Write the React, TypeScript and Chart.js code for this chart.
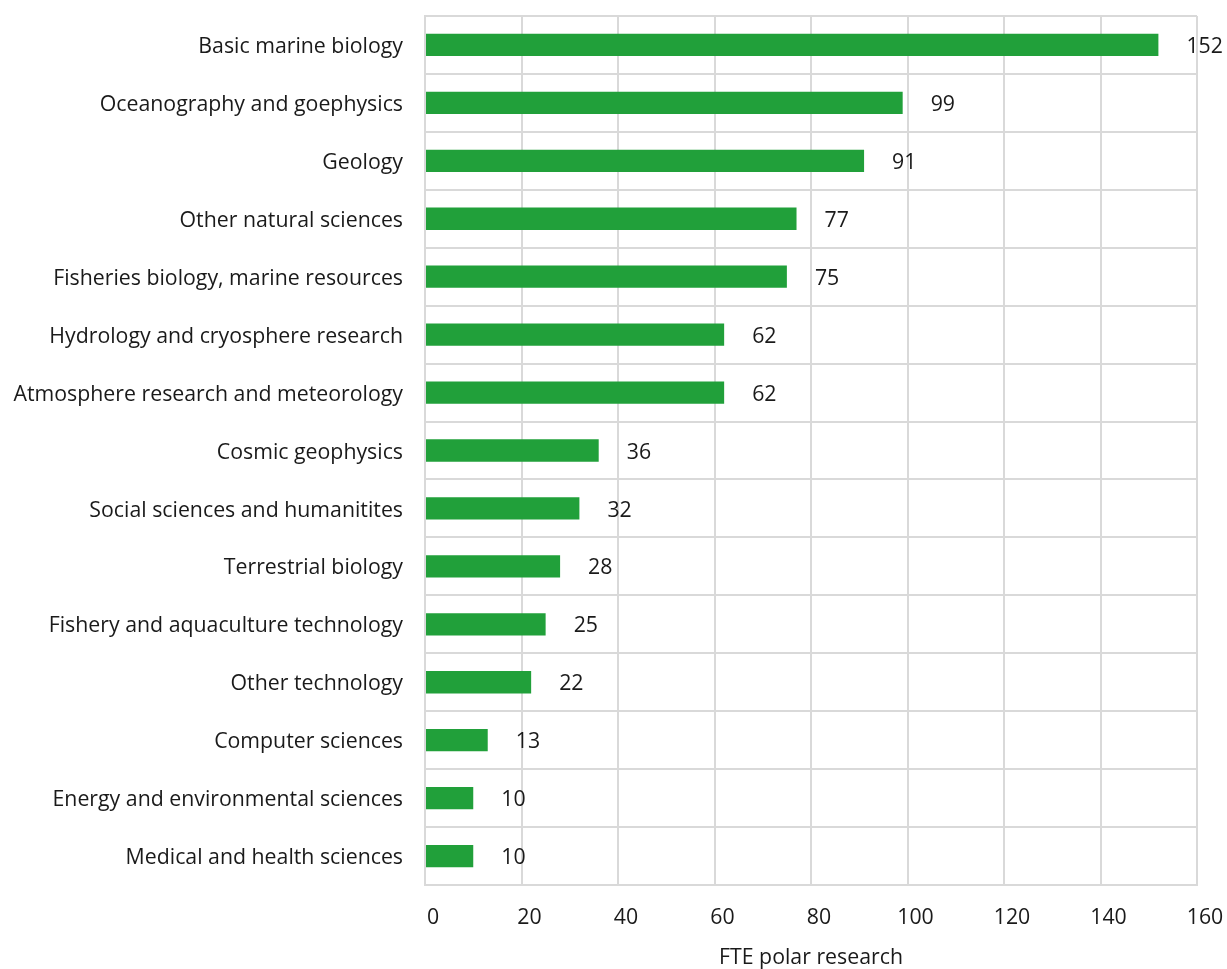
import React, { useEffect, useRef } from "react";
import { Chart, registerables } from "chart.js";

Chart.register(...registerables);

const categories = [
  "Basic marine biology",
  "Oceanography and goephysics",
  "Geology",
  "Other natural sciences",
  "Fisheries biology, marine resources",
  "Hydrology and cryosphere research",
  "Atmosphere research and meteorology",
  "Cosmic geophysics",
  "Social sciences and humanitites",
  "Terrestrial biology",
  "Fishery and aquaculture technology",
  "Other technology",
  "Computer sciences",
  "Energy and environmental sciences",
  "Medical and health sciences",
];

const fteValues = [152, 99, 91, 77, 75, 62, 62, 36, 32, 28, 25, 22, 13, 10, 10];
const valueLabels = ["152", "99", "91", "77", "75", "62", "62", "36", "32", "28", "25", "22", "13", "10", "10"];
const xTicks = [0, 20, 40, 60, 80, 100, 120, 140, 160];
const axisTitle = "FTE polar research";

const FONT = "'Open Sans', 'Noto Sans', sans-serif";
const FS = 21.3;
const TEXT = "#1a1a1a";
const GRID = "#d9d9d9";
const BAR = "#21a03a";

const valueLabelPlugin = {
  id: "valueLabels",
  afterDatasetsDraw(chart: any) {
    const ctx = chart.ctx;
    const meta = chart.getDatasetMeta(0);
    ctx.save();
    ctx.font = `${FS}px ${FONT}`;
    ctx.fillStyle = TEXT;
    ctx.textAlign = "left";
    ctx.textBaseline = "middle";
    meta.data.forEach((bar: any, i: number) => {
      ctx.fillText(valueLabels[i], bar.x + 28, bar.y + 2);
    });
    ctx.restore();
  },
};

export default function App() {
  const ref = useRef<HTMLCanvasElement | null>(null);

  useEffect(() => {
    document.body.style.margin = "0";
    const canvas = ref.current;
    if (!canvas) return;
    const chart = new Chart(canvas, {
      type: "bar",
      data: {
        labels: categories,
        datasets: [
          {
            data: fteValues,
            backgroundColor: BAR,
            borderWidth: 0,
            categoryPercentage: 1,
            barPercentage: 0.385,
          },
        ],
      },
      options: {
        indexAxis: "y",
        animation: false,
        responsive: false,
        maintainAspectRatio: false,
        layout: { padding: { top: 16, right: 30, left: 0, bottom: 0 } },
        plugins: {
          legend: { display: false },
          tooltip: { enabled: false },
        },
        scales: {
          x: {
            min: 0,
            max: 160,
            afterBuildTicks: (scale: any) => {
              scale.ticks = xTicks.map((v) => ({ value: v }));
            },
            grid: { color: GRID, lineWidth: 2, drawTicks: false },
            border: { color: GRID, width: 2 },
            ticks: {
              color: TEXT,
              font: { family: FONT, size: FS },
              padding: 20,
              labelOffset: 8,
              maxRotation: 0,
            },
            title: {
              display: true,
              text: axisTitle,
              color: TEXT,
              font: { family: FONT, size: FS, lineHeight: 1.0 },
              padding: { top: 0, bottom: 0 },
            },
            afterFit: (scale: any) => {
              scale.height = 84;
              scale.paddingLeft = 0;
              scale.paddingRight = 0;
            },
          },
          y: {
            grid: { color: GRID, lineWidth: 2, drawTicks: false, offset: true },
            border: { color: GRID, width: 2 },
            ticks: {
              color: TEXT,
              font: { family: FONT, size: FS },
              padding: 22,
              labelOffset: 2,
              autoSkip: false,
            },
            afterFit: (scale: any) => {
              scale.width = 425;
              scale.paddingTop = 0;
              scale.paddingBottom = 0;
            },
          },
        },
      },
      plugins: [valueLabelPlugin],
    });
    return () => chart.destroy();
  }, []);

  return (
    <div style={{ width: 1227, height: 969 }}>
      <canvas ref={ref} width={1227} height={969} style={{ display: "block" }} />
    </div>
  );
}
